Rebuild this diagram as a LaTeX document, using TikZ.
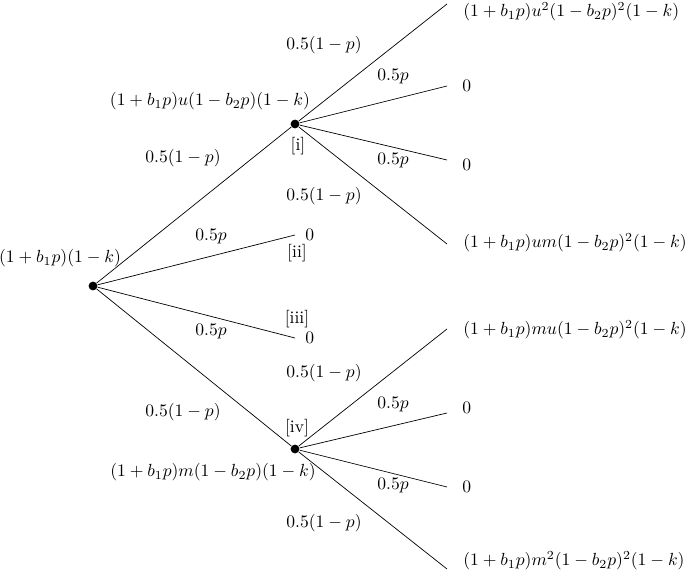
\documentclass[tikz,border=0pt]{standalone}
\usepackage{tikz}
\tikzstyle{vertex}=[circle,fill=black,minimum size=5pt,inner sep=0pt]
\tikzstyle{edge} = [draw,thin]
\tikzstyle{weight} = [font=\normalsize]
\tikzstyle{leaf} = [anchor=west,inner sep=0pt]
\tikzstyle{tag} = [inner sep=1pt]
\begin{document}
\begin{tikzpicture}[x=0.02cm,y=-0.02cm]
			\useasboundingbox (0,0) rectangle (685,573);
			% First we draw the vertices
			\foreach \pos/\name in {{(93,286)/r}, {(295,124)/i}, {(295,449)/iv}}
			\node[vertex] (\name) at \pos {};

			% End points of the branches
			\foreach \pos/\name in {{(447,4)/a1}, {(447,86)/a2}, {(447,160)/a3}, {(447,244)/a4},
									{(295,235)/ii}, {(295,338)/iii},
									{(447,329)/b1}, {(447,413)/b2}, {(447,487)/b3}, {(447,569)/b4}}
			\path \pos coordinate (\name);

			% Connect vertices with edges
			\foreach \source/ \dest in {r/i, r/ii, r/iii, r/iv, i/a1, i/a2, i/a3, i/a4, iv/b1, iv/b2, iv/b3, iv/b4}
			\path[edge] (\source) -- (\dest);

			% Payoffs at the leaves
			\foreach \pos/\name/\text in {{(463,12)/l1/{(1+b_1p)u^2(1-b_2p)^2(1-k)}}, {(462,86)/l2/{0}},
									{(462,165)/l3/{0}}, {(463,243)/l4/{(1+b_1p)um(1-b_2p)^2(1-k)}},
									{(305,235)/l5/{0}}, {(305,338)/l6/{0}},
									{(463,330)/l7/{(1+b_1p)mu(1-b_2p)^2(1-k)}}, {(462,408)/l8/{0}},
									{(462,487)/l9/{0}}, {(463,561)/l10/{(1+b_1p)m^2(1-b_2p)^2(1-k)}}}
			\node[leaf] (\name) at \pos {$\text$};

			% Values at the vertices and tags
			\foreach \pos/\name/\text in {{(60,258)/vr/{(1+b_1p)(1-k)}}, {(210,101)/vi/{(1+b_1p)u(1-b_2p)(1-k)}},
									{(213,472)/viv/{(1+b_1p)m(1-b_2p)(1-k)}}}
			\node[weight] (\name) at \pos {$\text$};
			\foreach \pos/\name/\text in {{(298,146)/ti/[i]}, {(297,253)/tii/[ii]}, {(297,319)/tiii/[iii]}, {(297,428)/tiv/[iv]}}
			\node[tag] (\name) at \pos {\text};

			% Draw weights
			\foreach \pos/\name/\weight in {{(183,158)/w1/{0.5(1-p)}}, {(211,237)/w2/{0.5p}}, {(211,332)/w3/{0.5p}},
									{(183,412)/w4/{0.5(1-p)}}, {(324,45)/w5/{0.5(1-p)}}, {(393,77)/w6/{0.5p}},
									{(393,161)/w7/{0.5p}}, {(324,196)/w8/{0.5(1-p)}}, {(324,373)/w9/{0.5(1-p)}},
									{(393,405)/w10/{0.5p}}, {(393,486)/w11/{0.5p}}, {(324,523)/w12/{0.5(1-p)}}}
			\node[weight] (\name) at \pos {$\weight$};

		\end{tikzpicture}
\end{document}
